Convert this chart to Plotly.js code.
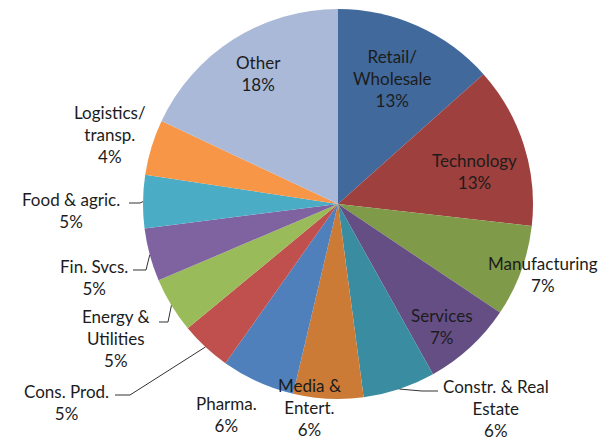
<!DOCTYPE html>
<html>
<head>
<meta charset="utf-8">
<script src="https://cdn.plot.ly/plotly-3.0.1.min.js"></script>
<style>html,body{margin:0;padding:0;background:#fff;}#chart{width:613px;height:442px;}</style>
</head>
<body>
<div id="chart"></div>
<script>
// ---- data ----
const categories = ['Retail/Wholesale','Technology','Manufacturing','Services','Constr. & Real Estate','Media & Entert.','Pharma.','Cons. Prod.','Energy & Utilities','Fin. Svcs.','Food & agric.','Logistics/transp.','Other'];
const shares = [13.4, 13.4, 7.6, 7.5, 6.0, 5.8, 6.1, 4.2, 4.6, 4.4, 4.4, 4.6, 18.0];
const pctLabels = ['13%','13%','7%','7%','6%','6%','6%','5%','5%','5%','5%','4%','18%'];

// ---- styling ----
const colors = ['#41699B','#9E403D','#7F9A48','#654E84','#3A8CA1','#CC7B37','#4F80BC','#BF504D','#9ABB59','#7F63A1','#4AACC5','#F79646','#AAB9D7'];
const displayNames = ['Retail/<br>Wholesale','Technology','Manufacturing','Services','Constr. & Real<br>Estate','Media &<br>Entert.','Pharma.','Cons. Prod.','Energy &<br>Utilities','Fin. Svcs.','Food & agric.','Logistics/<br>transp.','Other'];
// label centres (pixels) and leader knee/end points (pixels) - layout only
const labelPx = [[392,78],[474,172],[543,274],[442,326],[496,408],[309,407],[226,414],[66,402],[116,338],[94,277],[71,210],[110,134],[258,74]];
const leaders = {4:[[422,391],[438,391]], 7:[[130,395],[115,395]], 8:[[168,322],[159,322]], 9:[[146,270],[133,270]], 10:[[140,203],[129,203]]};

const W = 613, H = 442, CX = 338, CY = 204, R = 195;
const px = x => x / W, py = y => 1 - y / H;

// mid angles from data
const total = shares.reduce((a,b)=>a+b,0);
let cum = 0;
const mids = shares.map(v => { const m = (cum + v/2) / total * 2 * Math.PI; cum += v; return m; });

const annotations = categories.map((c,i) => ({
  xref:'paper', yref:'paper', x: px(labelPx[i][0]), y: py(labelPx[i][1]),
  xanchor:'center', yanchor:'middle', showarrow:false, align:'center',
  text: displayNames[i] + '<br>' + pctLabels[i],
  font:{family:'Lato, Carlito, sans-serif', size:17, color:'#1c1c1c'}
}));

const shapes = Object.keys(leaders).map(k => {
  const i = +k, a = mids[i];
  const sx = CX + R * Math.sin(a), sy = CY - R * Math.cos(a);
  const pts = [[sx,sy]].concat(leaders[k]);
  const path = pts.map((p,j)=>(j?'L':'M') + px(p[0]) + ',' + py(p[1])).join(' ');
  return {type:'path', xref:'paper', yref:'paper', path, line:{color:'#333', width:1}};
});

const trace = {
  type:'pie', labels: categories, values: shares, sort:false, direction:'clockwise', rotation:0,
  textinfo:'none', hoverinfo:'none',
  marker:{colors: colors, line:{width:0}},
  domain:{x:[(CX-R)/W,(CX+R)/W], y:[py(CY+R), py(CY-R)]},
  showlegend:false
};

Plotly.newPlot('chart', [trace], {
  width:W, height:H, margin:{l:0,r:0,t:0,b:0},
  paper_bgcolor:'#fff', plot_bgcolor:'#fff', showlegend:false,
  annotations, shapes
}, {displayModeBar:false, staticPlot:true});
</script>
</body>
</html>
